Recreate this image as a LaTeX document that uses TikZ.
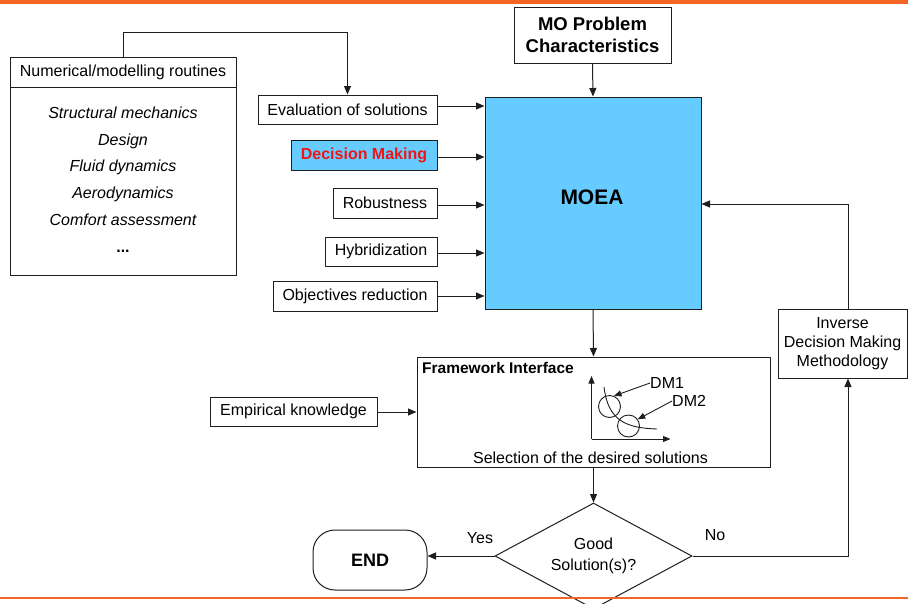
\documentclass[tikz,border=0pt]{standalone}
\usepackage{fontspec}
\setmainfont{Liberation Sans}
\usetikzlibrary{arrows.meta,shapes.geometric,calc}
\definecolor{bandorange}{RGB}{242,101,34}
\definecolor{moeablue}{RGB}{102,204,255}
\definecolor{dmred}{RGB}{240,20,20}
\definecolor{linegray}{RGB}{30,30,30}

\begin{document}
\begin{tikzpicture}[x=1pt,y=-1pt,
  txt/.style={font=\fontsize{16}{19}\selectfont,inner sep=0pt},
  box/.style={draw=linegray,line width=1pt,fill=white,inner sep=0pt,font=\fontsize{16}{19}\selectfont},
  arr/.style={draw=linegray,line width=1pt,-{Triangle[length=8.5pt,width=7pt]}},
  smallarr/.style={draw=linegray,line width=0.9pt,-{Triangle[length=7.5pt,width=6pt]}},
  ln/.style={draw=linegray,line width=0.9pt},
]
\useasboundingbox (0,0) rectangle (908,603);

% problem description and optimiser core
\node[box,minimum width=157,minimum height=56,align=center,
      font=\bfseries\fontsize{18.5}{22}\selectfont] (mo) at (592.5,35) {MO Problem\\Characteristics};
\node[box,fill=moeablue,minimum width=216,minimum height=212] (moea) at (593,203) {};
\node[txt,font=\bfseries\fontsize{21}{25}\selectfont] (moeatext) at (592,197) {MOEA};

% numerical routines
\node[box,minimum width=226,minimum height=188] (numbody) at (123,181) {};
\node[box,minimum width=226,minimum height=30] (numhead) at (123,72) {Numerical/modelling routines};
\node[txt,anchor=north,align=center,font=\itshape\fontsize{16}{26.8}\selectfont] (routines) at (123,106.5)
  {Structural mechanics\\Design\\Fluid dynamics\\Aerodynamics\\Comfort assessment\\\textup{\textbf{...}}};

% inputs to the MOEA
\node[box,minimum width=179,minimum height=29] (eval) at (347.5,109.5) {Evaluation of solutions};
\node[box,fill=moeablue,minimum width=146,minimum height=30,
      font=\bfseries\fontsize{16}{19}\selectfont,text=dmred] (dm) at (364,155) {Decision Making};
\node[box,minimum width=104,minimum height=30] (rob) at (385,203) {Robustness};
\node[box,minimum width=112,minimum height=29] (hyb) at (381,251.5) {Hybridization};
\node[box,minimum width=164,minimum height=30] (obj) at (355,296) {Objectives reduction};

% framework interface
\node[box,minimum width=353,minimum height=110] (fw) at (593.5,412) {};
\node[txt,anchor=west,font=\bfseries\fontsize{15.5}{19}\selectfont] (fwtitle) at (422,368) {Framework Interface};
\node[txt] (fwsel) at (590.5,457.5) {Selection of the desired solutions};
\node[box,minimum width=167,minimum height=29] (emp) at (293.5,411.5) {Empirical knowledge};

% sketch of the Pareto front with two decision makers
\coordinate (origin) at (591.5,439);
\draw[smallarr] (origin) -- ++(0,-63);
\draw[smallarr] (origin) -- ++(79,0);
\draw[ln] (604,387) .. controls (608,420) and (625,428) .. (657,429);
\node[circle,draw=linegray,line width=0.9pt,minimum size=22,inner sep=0pt] (c1) at (609.5,406.5) {};
\node[circle,draw=linegray,line width=0.9pt,minimum size=22,inner sep=0pt] (c2) at (628.5,426) {};
\node[txt,anchor=west] (dm1) at (650,383) {DM1};
\node[txt,anchor=west] (dm2) at (672,401) {DM2};
\draw[smallarr] (dm1.west) -- (c1.67);
\draw[smallarr] (dm2.west) -- (c2.36);

% decision and end
\node[draw=linegray,line width=1pt,fill=white,diamond,aspect=1.86,minimum width=197,minimum height=106,
      inner sep=0pt,align=center,font=\fontsize{16}{21}\selectfont] (dec) at (593.5,556) {Good\\Solution(s)?};
\node[box,rounded corners=22pt,minimum width=114,minimum height=60,
      font=\bfseries\fontsize{18}{22}\selectfont] (end) at (370,560) {END};
\node[txt] (yes) at (480,538) {Yes};
\node[txt] (no) at (715,535) {No};

% inverse decision making loop
\node[box,minimum width=129,minimum height=69,align=center] (inv) at (842.5,343.5)
  {Inverse\\Decision Making\\Methodology};
\coordinate (noturn) at (848,556);
\coordinate (backturn) at (848,204);

% connectors
\draw[arr] (numhead.north) -- ++(0,-24) -| (eval.north);
\draw[arr] (mo.south) -- (moea.north);
\draw[arr] (eval.east |- 0,106) -- (moea.west |- 0,106);
\draw[arr] (dm.east |- 0,157) -- (moea.west |- 0,157);
\draw[arr] (rob.east |- 0,205) -- (moea.west |- 0,205);
\draw[arr] (hyb.east |- 0,253) -- (moea.west |- 0,253);
\draw[arr] (obj.east |- 0,296) -- (moea.west |- 0,296);
\draw[arr] (moea.south) -- (fw.north);
\draw[arr] (emp.east |- 0,412) -- (fw.west |- 0,412);
\draw[arr] (fw.south) -- (dec.north);
\draw[arr] (dec.west) -- (dec.west -| end.east);
\draw[arr] (dec.east) -- (noturn) -- (noturn |- inv.south);
\draw[arr] (backturn |- inv.north) -- (backturn) -- (backturn -| moea.east);

% page bands
\fill[bandorange] (0,0) rectangle (908,3.5);
\fill[bandorange] (0,596.5) rectangle (908,599);
\end{tikzpicture}
\end{document}
